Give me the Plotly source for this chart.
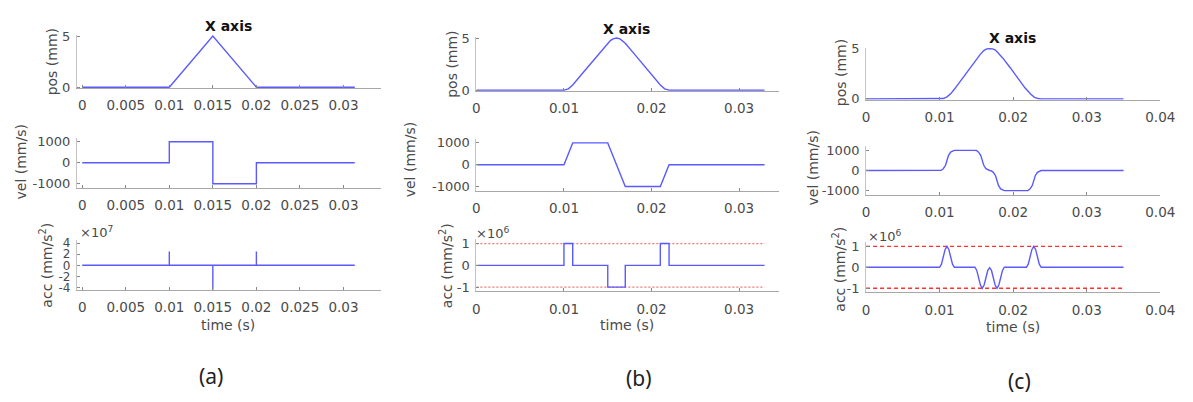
import plotly.graph_objects as go

W, H = 1193, 402

# ---------------- (a) constant-velocity segments ----------------
ta_pos = [0, 0.010, 0.015, 0.020, 0.0313]
pa = [0, 0, 5, 0, 0]
ta_vel = [0, 0.010, 0.010, 0.015, 0.015, 0.020, 0.020, 0.0313]
va = [0, 0, 1000, 1000, -1000, -1000, 0, 0]
ta_acc = [0, 0.010, 0.010, 0.010, 0.015, 0.015, 0.015, 0.020, 0.020, 0.020, 0.0313]
aa = [0, 0, 2.5e7, 0, 0, -5e7, 0, 0, 2.5e7, 0, 0]

# ---------------- (b) trapezoidal velocity ----------------
tb_pos = [0, 0.0100, 0.0105, 0.0110, 0.0120, 0.0130, 0.0140, 0.0150, 0.0153, 0.0156,
          0.0160, 0.0164, 0.0167, 0.0170, 0.0180, 0.0190, 0.0200, 0.0210, 0.0215, 0.0220, 0.0329]
pb = [0, 0, 0.125, 0.5, 1.5, 2.5, 3.5, 4.5, 4.75, 4.92,
      5.0, 4.92, 4.75, 4.5, 3.5, 2.5, 1.5, 0.5, 0.125, 0, 0]
tb_vel = [0, 0.010, 0.011, 0.015, 0.017, 0.021, 0.022, 0.0329]
vb = [0, 0, 1000, 1000, -1000, -1000, 0, 0]
tb_acc = [0, 0.010, 0.010, 0.011, 0.011, 0.015, 0.015, 0.017, 0.017,
          0.021, 0.021, 0.022, 0.022, 0.0329]
ab = [0, 0, 1e6, 1e6, 0, 0, -1e6, -1e6, 0, 0, 1e6, 1e6, 0, 0]
acc_limits_b = [1e6, -1e6]

# ---------------- (c) smooth (jerk-limited) profile ----------------
tc_pos = [0, 0.0100, 0.0105, 0.0110, 0.0115, 0.0120, 0.0130, 0.0140, 0.0150, 0.0155,
          0.0160, 0.0164, 0.0168, 0.0172, 0.0176, 0.0181, 0.0186, 0.0196, 0.0206,
          0.0216, 0.0224, 0.0229, 0.0234, 0.0238, 0.0350]
pc = [0, 0, 0.03, 0.2, 0.5, 0.95, 1.95, 2.95, 3.9, 4.4,
      4.8, 4.98, 5.0, 4.98, 4.85, 4.5, 4.05, 3.1, 2.1,
      1.1, 0.45, 0.15, 0.03, 0, 0]
tc_vel = [0, 0.0100, 0.0102, 0.0105, 0.0108, 0.0110, 0.0112, 0.0115, 0.0118, 0.0120,
          0.0148, 0.0150, 0.0153, 0.0156, 0.0158, 0.0160, 0.0163, 0.0166, 0.0168,
          0.0170, 0.0173, 0.0176, 0.0178, 0.0180, 0.0183, 0.0186, 0.0188,
          0.0218, 0.0220, 0.0223, 0.0226, 0.0228, 0.0230, 0.0233, 0.0236, 0.0238, 0.0350]
vc = [0, 0, 10, 90, 260, 500, 740, 910, 990, 1000,
      1000, 990, 910, 740, 500, 260, 90, 10, 0,
      -10, -90, -260, -500, -740, -910, -990, -1000,
      -1000, -990, -910, -740, -500, -260, -90, -10, 0, 0]
tc_acc = [0, 0.0100, 0.01025, 0.0105, 0.01075, 0.0110, 0.01125, 0.0115, 0.01175, 0.0120,
          0.0148, 0.01505, 0.0153, 0.01555, 0.0158, 0.01605, 0.0163, 0.01655, 0.0168,
          0.01705, 0.0173, 0.01755, 0.0178, 0.01805, 0.0183, 0.01855, 0.0188,
          0.0218, 0.02205, 0.0223, 0.02255, 0.0228, 0.02305, 0.0233, 0.02355, 0.0238, 0.0350]
ac = [0, 0, 0.15e6, 0.5e6, 0.85e6, 1e6, 0.85e6, 0.5e6, 0.15e6, 0,
      0, -0.15e6, -0.5e6, -0.85e6, -1e6, -0.85e6, -0.5e6, -0.15e6, -0.02e6,
      -0.15e6, -0.5e6, -0.85e6, -1e6, -0.85e6, -0.5e6, -0.15e6, 0,
      0, 0.15e6, 0.5e6, 0.85e6, 1e6, 0.85e6, 0.5e6, 0.15e6, 0, 0]
acc_limits_c = [1e6, -1e6]

# ---------------- tick labels ----------------
xt_a = [0, 0.005, 0.01, 0.015, 0.02, 0.025, 0.03]
xl_a = ["0", "0.005", "0.01", "0.015", "0.02", "0.025", "0.03"]
xt_b = [0, 0.01, 0.02, 0.03]
xl_b = ["0", "0.01", "0.02", "0.03"]
xt_c = [0, 0.01, 0.02, 0.03, 0.04]
xl_c = ["0", "0.01", "0.02", "0.03", "0.04"]
pos_ticks, pos_labels = [0, 5], ["0", "5"]
vel_ticks, vel_labels = [-1000, 0, 1000], ["-1000", "0", "1000"]
acc7_ticks, acc7_labels = [-4e7, -2e7, 0, 2e7, 4e7], ["-4", "-2", "0", "2", "4"]
acc6_ticks, acc6_labels = [-1e6, 0, 1e6], ["-1", "0", "1"]
captions = ["(a)", "(b)", "(c)"]

BLUE = "#5a5aff"
FONT = "DejaVu Sans, Verdana, sans-serif"
TXT = "#4a4a4a"


def xdom(a, b):
    return [a / W, b / W]


def ydom(top, bottom):
    return [1 - bottom / H, 1 - top / H]


panels = [
    dict(xd=(74, 383), xr=[-0.00062, 0.0343], xt=xt_a, xl=xl_a,
         rows=[
             dict(yd=(30, 85), yr=[-0.1, 5.1], yt=pos_ticks, yl=pos_labels, t=ta_pos, v=pa),
             dict(yd=(136, 188), yr=[-1200, 1200], yt=vel_ticks, yl=vel_labels, t=ta_vel, v=va),
             dict(yd=(241.5, 293.3), yr=[-4.4e7, 4.6e7], yt=acc7_ticks, yl=acc7_labels,
                  t=ta_acc, v=aa, ytsize=12),
         ]),
    dict(xd=(480, 788), xr=[0, 0.0346], xt=xt_b, xl=xl_b,
         rows=[
             dict(yd=(32, 88), yr=[-0.1, 5.1], yt=pos_ticks, yl=pos_labels, t=tb_pos, v=pb),
             dict(yd=(137, 191), yr=[-1200, 1200], yt=vel_ticks, yl=vel_labels, t=tb_vel, v=vb),
             dict(yd=(241, 295), yr=[-1.2e6, 1.2e6], yt=acc6_ticks, yl=acc6_labels,
                  t=tb_acc, v=ab, lim=acc_limits_b, limstyle=("#ff7070", "2px,2px")),
         ]),
    dict(xd=(876, 1175), xr=[0, 0.04], xt=xt_c, xl=xl_c,
         rows=[
             dict(yd=(43, 97), yr=[-0.1, 5.1], yt=pos_ticks, yl=pos_labels, t=tc_pos, v=pc),
             dict(yd=(145, 195), yr=[-1200, 1200], yt=vel_ticks, yl=vel_labels, t=tc_vel, v=vc),
             dict(yd=(244, 296), yr=[-1.2e6, 1.2e6], yt=acc6_ticks, yl=acc6_labels,
                  t=tc_acc, v=ac, lim=acc_limits_c, limstyle=("#ff3030", "4px,3px")),
         ]),
]

fig = go.Figure()
layout = {}
n = 0
for p in panels:
    for r in p["rows"]:
        n += 1
        sx = "" if n == 1 else str(n)
        xa, ya = "x" + sx, "y" + sx
        if "lim" in r:
            col, dash = r["limstyle"]
            for lv in r["lim"]:
                fig.add_trace(go.Scatter(
                    x=[r["t"][0], r["t"][-1]], y=[lv, lv], mode="lines",
                    line=dict(color=col, width=1.3, dash=dash),
                    xaxis=xa, yaxis=ya, showlegend=False, hoverinfo="skip"))
        fig.add_trace(go.Scatter(
            x=r["t"], y=r["v"], mode="lines",
            line=dict(color=BLUE, width=1.4),
            xaxis=xa, yaxis=ya, showlegend=False, hoverinfo="skip"))
        layout["xaxis" + sx] = dict(
            domain=xdom(*p["xd"]), range=p["xr"], anchor=ya,
            tickvals=p["xt"], ticktext=p["xl"],
            showline=True, linecolor="#a8a8a8", linewidth=1,
            ticks="inside", ticklen=3, tickcolor="#888",
            showgrid=False, zeroline=False, ticklabelstandoff=5,
            ticklabeloverflow="allow",
            tickfont=dict(family=FONT, size=13.5, color=TXT))
        layout["yaxis" + sx] = dict(
            domain=ydom(*r["yd"]), range=r["yr"], anchor=xa,
            tickvals=r["yt"], ticktext=r["yl"],
            showline=True, linecolor="#c4c4c4", linewidth=1,
            ticks="inside", ticklen=3, tickcolor="#888",
            showgrid=False, zeroline=False, ticklabelstandoff=3,
            tickfont=dict(family=FONT, size=r.get("ytsize", 13), color=TXT))

ann = []


def text(x, y, s, size=14, color=TXT, angle=0, bold=False, xanchor="center", family=FONT):
    ann.append(dict(
        x=x / W, y=1 - y / H, xref="paper", yref="paper",
        text=("<b>%s</b>" % s) if bold else s,
        showarrow=False, textangle=angle, xanchor=xanchor, yanchor="middle",
        font=dict(family=family, size=size, color=color)))


# titles
for x, y in [(228, 21), (633, 24), (1025, 33)]:
    text(x, y, "X axis", size=14, color="#111", bold=True)

# y-axis titles
ylabels = [
    [(49, 58), (17, 161), (43, 268)],
    [(455, 60), (412, 159), (450, 268)],
    [(850, 69), (822, 167), (849, 272)],
]
for col in ylabels:
    for (x, y), s in zip(col, ["pos (mm)", "vel (mm/s)", "acc (mm/s<sup>2</sup>)"]):
        text(x, y, s, size=14, angle=-90)

# exponent labels
text(75, 234, "×10<sup>7</sup>", size=13, xanchor="left")
text(478, 235, "×10<sup>6</sup>", size=13, xanchor="left")
text(876, 238, "×10<sup>6</sup>", size=13, xanchor="left")

# x-axis titles
for x, y in [(228, 330), (633, 330), (1025, 332)]:
    text(x, y, "time (s)", size=14)

# panel captions
for (x, y), s in zip([(210, 382), (645, 384), (1032, 388)], captions):
    text(x, y, s, size=21, color="#222", family="Noto Sans, Open Sans, sans-serif")

layout.update(dict(
    width=W, height=H, autosize=False,
    margin=dict(l=0, r=0, t=0, b=0),
    paper_bgcolor="white", plot_bgcolor="white",
    annotations=ann, showlegend=False))
fig.update_layout(**layout)
# the figure fills the page exactly, so drop the default body margin
fig.write_html("out.html", post_script="document.body.style.margin='0';")
